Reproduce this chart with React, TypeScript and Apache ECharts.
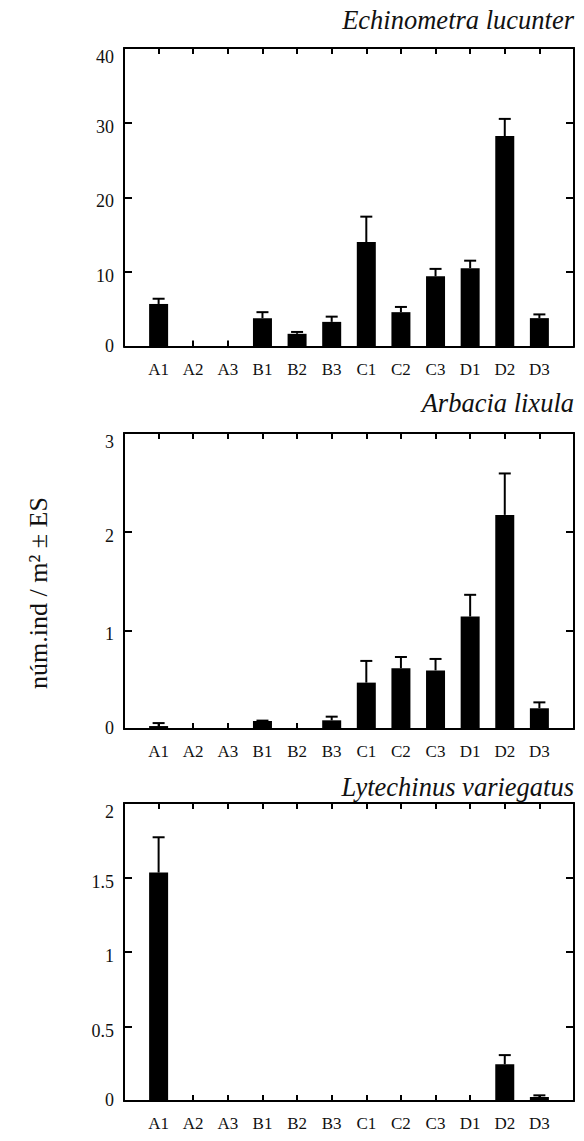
import React, { useEffect, useRef } from "react";
import * as echarts from "echarts";

const categories = ["A1", "A2", "A3", "B1", "B2", "B3", "C1", "C2", "C3", "D1", "D2", "D3"];

const titles = ["Echinometra lucunter", "Arbacia lixula", "Lytechinus variegatus"];

// mean values
const echinometraMean = [5.7, 0, 0, 3.8, 1.7, 3.3, 14.0, 4.6, 9.4, 10.5, 28.2, 3.8];
const arbaciaMean = [0.03, 0, 0, 0.08, 0, 0.088, 0.47, 0.615, 0.594, 1.14, 2.17, 0.21];
const lytechinusMean = [1.533, 0, 0, 0, 0, 0, 0, 0, 0, 0, 0.246, 0.027];

// mean + standard error (top of error bar)
const echinometraTop = [6.4, 0, 0, 4.6, 1.95, 4.0, 17.4, 5.3, 10.4, 11.5, 30.5, 4.3];
const arbaciaTop = [0.06, 0, 0, 0.085, 0, 0.125, 0.69, 0.73, 0.71, 1.36, 2.59, 0.27];
const lytechinusTop = [1.77, 0, 0, 0, 0, 0, 0, 0, 0, 0, 0.308, 0.038];

// y-axis scales
const yMax = [40, 3, 2];
const yInterval = [10, 1, 0.5];

const yTitle = "núm.ind / m² ± ES";

const FONT = "Liberation Serif";

export default function App() {
  const ref = useRef<HTMLDivElement>(null);

  useEffect(() => {
    if (!ref.current) return;
    const chart = echarts.init(ref.current, undefined, { renderer: "svg" });

    const means = [echinometraMean, arbaciaMean, lytechinusMean];
    const tops = [echinometraTop, arbaciaTop, lytechinusTop];
    const grids = [
      { left: 124, top: 48, width: 450, height: 298.5 },
      { left: 124, top: 433, width: 450, height: 296 },
      { left: 124, top: 803, width: 450, height: 298 },
    ];
    const titleY = [20, 403, 787];

    const axisLine = { show: true, onZero: false, lineStyle: { color: "#000", width: 2 } };
    const xTick = { show: true, inside: true, length: 6, lineStyle: { color: "#000", width: 2 } };
    const yTick = { show: true, inside: true, length: 8, lineStyle: { color: "#000", width: 2 } };

    const xAxis: any[] = [];
    const yAxis: any[] = [];
    const series: any[] = [];

    grids.forEach((g, i) => {
      xAxis.push({
        type: "value",
        gridIndex: i,
        position: "bottom",
        min: 0,
        max: 13,
        interval: 1,
        axisLine,
        axisTick: xTick,
        splitLine: { show: false },
        axisLabel: {
          show: true,
          margin: 14,
          fontFamily: FONT,
          fontSize: 17,
          color: "#111",
          formatter: (v: number) => categories[v - 1] || "",
        },
      });
      xAxis.push({
        type: "value",
        gridIndex: i,
        position: "top",
        min: 0,
        max: 13,
        interval: 1,
        axisLine,
        axisTick: xTick,
        splitLine: { show: false },
        axisLabel: { show: false },
      });
      const maxV = yMax[i];
      yAxis.push({
        type: "value",
        gridIndex: i,
        position: "left",
        min: 0,
        max: maxV,
        interval: yInterval[i],
        axisLine,
        axisTick: yTick,
        splitLine: { show: false },
        axisLabel: {
          show: true,
          margin: 10,
          fontFamily: FONT,
          fontSize: 18,
          color: "#111",
          formatter: (v: number) =>
            v === maxV ? `{t|${v}}` : v === 0 ? `{z|${v}}` : `{n|${v}}`,
          rich: {
            t: { fontFamily: FONT, fontSize: 18, color: "#111", padding: [18, 0, 0, 0] },
            n: { fontFamily: FONT, fontSize: 18, color: "#111", padding: [8, 0, 0, 0] },
            z: { fontFamily: FONT, fontSize: 18, color: "#111", padding: [0, 0, 2, 0] },
          },
        },
      });
      yAxis.push({
        type: "value",
        gridIndex: i,
        position: "right",
        min: 0,
        max: maxV,
        interval: yInterval[i],
        axisLine,
        axisTick: yTick,
        splitLine: { show: false },
        axisLabel: { show: false },
      });

      series.push({
        type: "bar",
        xAxisIndex: i * 2,
        yAxisIndex: i * 2,
        barWidth: 19,
        itemStyle: { color: "#000" },
        data: means[i].map((v, k) => [k + 1, v]),
        z: 3,
      });
      series.push({
        type: "custom",
        xAxisIndex: i * 2,
        yAxisIndex: i * 2,
        z: 4,
        data: means[i].map((v, k) => [k + 1, v, tops[i][k]]),
        renderItem: (params: any, api: any) => {
          const x = api.value(0);
          const v = api.value(1);
          const e = api.value(2);
          if (!(e > v)) return { type: "group", children: [] };
          const p1 = api.coord([x, v]);
          const p2 = api.coord([x, e]);
          const style = { stroke: "#000", lineWidth: 2 };
          return {
            type: "group",
            children: [
              { type: "line", shape: { x1: p1[0], y1: p1[1], x2: p2[0], y2: p2[1] }, style },
              { type: "line", shape: { x1: p2[0] - 6, y1: p2[1], x2: p2[0] + 6, y2: p2[1] }, style },
            ],
          };
        },
      });
    });

    const graphic: any[] = titles.map((t, i) => ({
      type: "text",
      x: 574,
      y: titleY[i],
      style: {
        text: t,
        align: "right",
        verticalAlign: "middle",
        fontFamily: FONT,
        fontStyle: "italic",
        fontSize: 26.5,
        fill: "#111",
      },
    }));
    graphic.push({
      type: "text",
      x: 38,
      y: 593,
      rotation: Math.PI / 2,
      style: {
        text: yTitle,
        align: "center",
        verticalAlign: "middle",
        fontFamily: FONT,
        fontSize: 26,
        fill: "#111",
      },
    });

    chart.setOption({
      animation: false,
      backgroundColor: "#fff",
      grid: grids.map((g) => ({ ...g, containLabel: false })),
      xAxis,
      yAxis,
      series,
      graphic,
    });

    return () => chart.dispose();
  }, []);

  return (
    <div
      ref={ref}
      style={{ position: "fixed", left: 0, top: 0, width: 584, height: 1141, background: "#fff" }}
    />
  );
}
